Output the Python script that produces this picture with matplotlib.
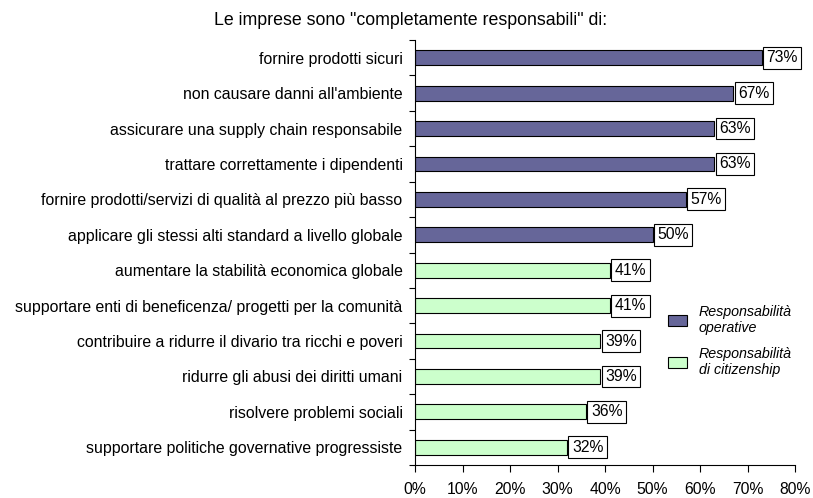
import numpy as np
import matplotlib.pyplot as plt
from matplotlib.patches import Patch

plt.rcParams['font.family'] = ['Liberation Sans', 'DejaVu Sans']

categories = [
    "fornire prodotti sicuri",
    "non causare danni all'ambiente",
    "assicurare una supply chain responsabile",
    "trattare correttamente i dipendenti",
    "fornire prodotti/servizi di qualità al prezzo più basso",
    "applicare gli stessi alti standard a livello globale",
    "aumentare la stabilità economica globale",
    "supportare enti di beneficenza/ progetti per la comunità",
    "contribuire a ridurre il divario tra ricchi e poveri",
    "ridurre gli abusi dei diritti umani",
    "risolvere problemi sociali",
    "supportare politiche governative progressiste",
]
values = [73, 67, 63, 63, 57, 50, 41, 41, 39, 39, 36, 32]
groups = ["op"] * 6 + ["cit"] * 6
xticks = [0, 10, 20, 30, 40, 50, 60, 70, 80]

col_op = "#666699"
col_cit = "#CCFFCC"

fig = plt.figure(figsize=(8.13, 4.98), dpi=100)
ax = fig.add_axes([415 / 813, 1 - 465 / 498, (795 - 415) / 813, (465 - 40) / 498])

y = np.arange(len(categories))
colors = [col_op if g == "op" else col_cit for g in groups]
ax.barh(y, values, height=0.42, color=colors, edgecolor="black", linewidth=0.8)

for yi, v in zip(y, values):
    ax.annotate(f"{v}%", (v, yi), xytext=(3.5, 0), textcoords="offset points",
                va="center", ha="left", fontsize=11.3,
                bbox=dict(boxstyle="square,pad=0.22", facecolor="white", edgecolor="black", linewidth=0.8))

ax.set_ylim(len(categories) - 0.5, -0.5)
ax.set_xlim(0, 80)
ax.set_yticks(y)
ax.set_yticklabels(categories, fontsize=11.4)
ax.set_yticks(np.arange(-0.5, len(categories)), minor=True)
ax.tick_params(axis="y", which="major", length=0, pad=9)
ax.tick_params(axis="y", which="minor", length=4, width=0.8)
ax.set_xticks(xticks)
ax.set_xticklabels([f"{t}%" for t in xticks], fontsize=11.3)
ax.tick_params(axis="x", length=5, width=0.8, pad=7)

for s in ["top", "right"]:
    ax.spines[s].set_visible(False)
for s in ["left", "bottom"]:
    ax.spines[s].set_linewidth(0.8)

fig.text(411 / 813, 1 - 20 / 498, 'Le imprese sono "completamente responsabili" di:',
         ha="center", va="center", fontsize=12.8)

handles = [Patch(facecolor=col_op, edgecolor="black", linewidth=0.8, label="Responsabilità\noperative"),
           Patch(facecolor=col_cit, edgecolor="black", linewidth=0.8, label="Responsabilità\ndi citizenship")]
fig.legend(handles=handles, loc="center left", bbox_to_anchor=(655 / 813, 1 - 341 / 498),
           frameon=False, prop={"style": "italic", "size": 10.3}, labelspacing=0.8,
           handlelength=1.35, handleheight=0.85, handletextpad=0.8)

fig.savefig("out.png", dpi=100)
